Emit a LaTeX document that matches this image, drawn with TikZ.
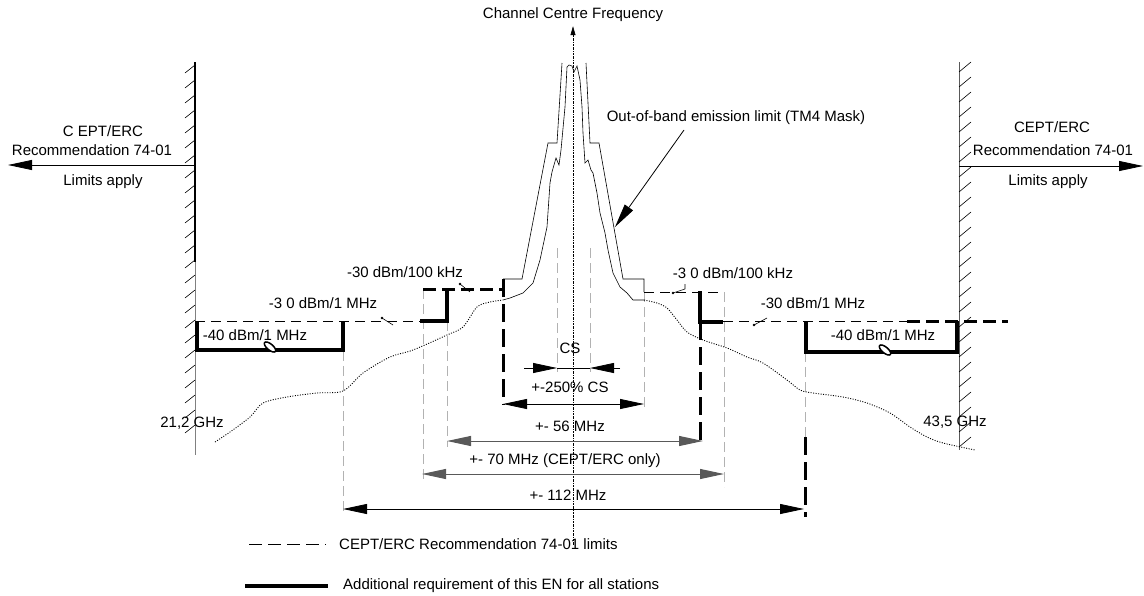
\documentclass[tikz,border=0pt]{standalone}
\usepackage{fontspec}
\setmainfont{Liberation Sans}
\usetikzlibrary{arrows.meta}

\begin{document}
\begin{tikzpicture}[x=1pt, y=-1pt,
    every node/.style={font=\fontsize{15}{18}\selectfont, inner sep=0pt},
    punta/.style={-{Triangle[length=24pt,width=10pt]}},
    dpunta/.style={{Triangle[length=24pt,width=10pt]}-{Triangle[length=24pt,width=10pt]}},
    limite/.style={line width=0.8pt, dash pattern=on 10pt off 6pt},
    grueso/.style={line width=4pt},
    gdash/.style={line width=3pt, dash pattern=on 18pt off 7pt},
    hdash/.style={line width=3pt, dash pattern=on 13pt off 6pt},
    guia/.style={gray!60, line width=0.6pt, dash pattern=on 10pt off 5pt},
    pared/.style={line width=0.6pt},
    puntos/.style={line width=0.9pt, dash pattern=on 1pt off 1.5pt},
    gris/.style={gray!70!black, line width=1pt}]
  \useasboundingbox (0,0) rectangle (1144,595);

  % Eje de la frecuencia central
  \node (fc) at (573,15) {Channel Centre Frequency};
  \coordinate (eje) at (573,545);
  \draw[line width=0.6pt, dash pattern=on 2pt off 1pt on 0.5pt off 1pt,
        -{Triangle[length=9pt,width=5pt]}, shorten >=4pt] (eje) -- (fc.south);

  % Pared izquierda
  \draw[line width=2.4pt] (195,62) -- (195,262);
  \draw[pared, gray] (195,262) -- (195,455);
  \foreach \y in {65,80,...,425} \draw[pared] (185,\y+8) -- (195,\y);

  % Pared derecha
  \draw[pared, gray!70!black] (959,62) -- (959,450);
  \foreach \y in {62,77,...,437} \draw[pared] (959,\y+10) -- (971,\y);

  % Flechas laterales
  \coordinate (pi) at (195,165);
  \coordinate (fi) at (8,165);
  \draw[punta, line width=0.8pt] (pi) -- (fi);
  \node (ci) at (103,131) {C EPT/ERC};
  \node (ri) at (92,150) {Recommendation 74-01};
  \node (li) at (103,182) {Limits apply};
  \coordinate (pd) at (959,166);
  \coordinate (fd) at (1143,166);
  \draw[punta, line width=0.8pt] (pd) -- (fd);
  \node (cd) at (1052,127) {CEPT/ERC};
  \node (rd) at (1053,150) {Recommendation 74-01};
  \node (ld) at (1048,182) {Limits apply};

  % Lineas guia
  \draw[guia] (343,321) -- (343,512);
  \draw[guia] (423,289) -- (423,483);
  \draw[guia] (447,321) -- (447,447);
  \draw[guia] (557,248) -- (557,372);
  \draw[guia] (590,248) -- (590,372);
  \draw[guia] (644,292) -- (644,408);
  \draw[guia] (724,292) -- (724,487);
  \draw[guia] (805,352) -- (805,437);

  % Mascara CEPT/ERC y requisitos adicionales (izquierda)
  \draw[limite] (195,321) -- (420,321);
  \draw[grueso] (420,321) -- (447,321) -- (447,289);
  \draw[hdash] (423,289) -- (503,289);
  \draw[gdash] (503,279) -- (503,405);
  \draw[grueso] (197,321) -- (197,350) -- (343,350) -- (343,321);
  \draw[fill=white, line width=1.5pt, rotate around={-40:(270,347)}] (270,347) ellipse (7 and 3);

  % Mascara CEPT/ERC y requisitos adicionales (derecha)
  \draw[limite] (644,292) -- (723,292);
  \draw[grueso] (700,291) -- (700,322) -- (723,322);
  \draw[gdash] (700,322) -- (700,443);
  \draw[limite] (723,321) -- (907,321);
  \draw[hdash] (907,321) -- (1008,321);
  \draw[grueso] (806,321) -- (806,352) -- (957,352) -- (957,321);
  \draw[fill=white, line width=1.5pt, rotate around={-40:(885,350)}] (885,350) ellipse (7 and 3);
  \draw[gdash] (805,437) -- (805,517);

  % Mascara TM4
  \draw[pared] (503,279) -- (522,279) -- (548,143) -- (557,143) -- (562,63);
  \draw[pared] (586,63) -- (590,143) -- (599,143) -- (623,279) -- (644,279) -- (644,292);

  % Espectro
  \draw[puntos] plot[smooth] coordinates {(215,442) (230,432) (250,417) (263,403)
    (287,397) (317,393) (343,391) (363,373) (390,357) (413,350) (447,335)
    (463,327) (477,307) (490,302) (503,300)};
  \draw[pared] (503,300) -- (510,298) -- (523,293) -- (533,283) -- (540,260)
    -- (547,227) -- (550,183) -- (552,172) -- (556,158) -- (559,165) -- (561,150)
    -- (565,107) -- (567,67) -- (569,65) -- (572,66) -- (574,72) -- (577,66)
    -- (580,80) -- (582,107) -- (583,133) -- (585,163) -- (588,160) -- (591,170)
    -- (593,173) -- (597,193) -- (600,213) -- (605,233) -- (608,250) -- (613,273)
    -- (620,287) -- (627,293) -- (633,300) -- (644,300);
  \draw[puntos] plot[smooth] coordinates {(644,300) (657,303) (667,308) (677,320)
    (687,332) (703,340) (727,348) (747,357) (763,363) (787,380) (800,390)
    (813,393) (843,397) (867,403) (890,413) (910,427) (927,437) (943,443) (975,450)};

  % Etiquetas de niveles
  \node (m40i) at (255,335) {-40 dBm/1 MHz};
  \node (m30i) at (323,303) {-3 0 dBm/1 MHz};
  \node (k30i) at (405,272) {-30 dBm/100 kHz};
  \node (k30d) at (733,273) {-3 0 dBm/100 kHz};
  \node (m30d) at (813,303) {-30 dBm/1 MHz};
  \node (m40d) at (883,335) {-40 dBm/1 MHz};
  \node (g212) at (192,423) {21,2 GHz};
  \node (g435) at (955,422) {43,5 GHz};
  \fill (382,318) circle (1.3);
  \draw[pared] (382,318) -- (393,325);
  \fill (460,284) circle (1.3);
  \draw[pared] (460,284) -- (470,292);
  \fill (673,293) circle (1.3);
  \draw[pared] (673,293) -- (685,289) -- (685,284);
  \fill (754,325) circle (1.3);
  \draw[pared] (754,325) -- (767,318);

  % Flecha de la mascara TM4
  \node (tm4) at (736,118) {Out-of-band emission limit (TM4 Mask)};
  \coordinate (tm4a) at (684,130);
  \coordinate (tm4b) at (615,227);
  \draw[punta, line width=0.8pt] (tm4a) -- (tm4b);

  % Cotas
  \coordinate (csl) at (524,368);
  \coordinate (csi) at (557,368);
  \coordinate (csj) at (590,368);
  \coordinate (csd) at (620,368);
  \draw[line width=0.8pt] (csi) -- (csj);
  \draw[punta, line width=0.8pt] (csl) -- (csi);
  \draw[punta, line width=0.8pt] (csd) -- (csj);
  \node (cs) at (570,348) {CS};
  \draw[dpunta, line width=0.8pt] (503,404) -- (644,404);
  \node (c250) at (570,387) {+-250\% CS};
  \draw[dpunta, gris] (447,441) -- (703,441);
  \node (c56) at (570,426) {+- 56 MHz};
  \draw[dpunta, gris] (422,474) -- (724,474);
  \node (c70) at (565,461) {+- 70 MHz (CEPT/ERC only)};
  \draw[dpunta, line width=0.8pt] (343,509) -- (804,509);
  \node (c112) at (568,495) {+- 112 MHz};

  % Leyenda
  \coordinate (l1a) at (249,544);
  \coordinate (l1b) at (326,544);
  \draw[line width=0.8pt, dash pattern=on 13pt off 6pt] (l1a) -- (l1b);
  \node[anchor=west] (ley1) at (339,544) {CEPT/ERC Recommendation 74-01 limits};
  \coordinate (l2a) at (245,586);
  \coordinate (l2b) at (328,586);
  \draw[grueso] (l2a) -- (l2b);
  \node[anchor=west] (ley2) at (343,586) {Additional requirement of this EN for all stations};
\end{tikzpicture}
\end{document}
